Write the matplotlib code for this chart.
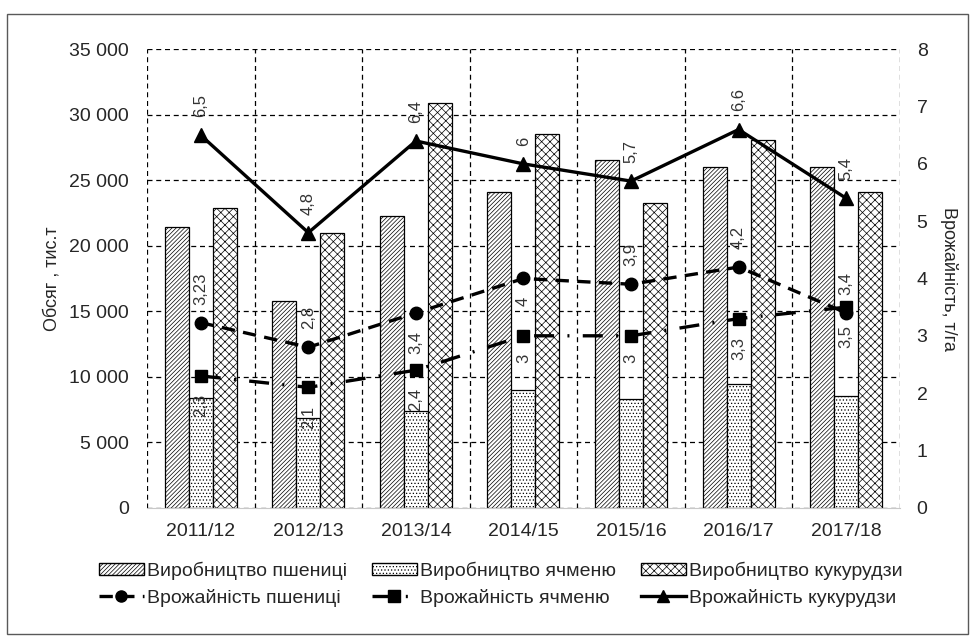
import numpy as np
import matplotlib
matplotlib.use('Agg')
import matplotlib.pyplot as plt
from matplotlib.patches import Patch, Rectangle
from matplotlib.lines import Line2D
from matplotlib.ticker import FuncFormatter

plt.rcParams['font.family'] = ['Liberation Sans', 'DejaVu Sans']
plt.rcParams['hatch.linewidth'] = 0.5
plt.rcParams['text.color'] = '#262626'
plt.rcParams['axes.labelcolor'] = '#262626'
plt.rcParams['xtick.color'] = '#262626'
plt.rcParams['ytick.color'] = '#262626'

# Data
seasons = ['2011/12', '2012/13', '2013/14', '2014/15', '2015/16', '2016/17', '2017/18']
wheat_prod = [21400, 15800, 22270, 24100, 26540, 26050, 26000]
barley_prod = [8400, 6850, 7350, 9000, 8290, 9430, 8540]
corn_prod = [22850, 20950, 30870, 28500, 23250, 28100, 24100]

wheat_yield = [3.23, 2.8, 3.4, 4, 3.9, 4.2, 3.4]
barley_yield = [2.3, 2.1, 2.4, 3, 3, 3.3, 3.5]
corn_yield = [6.5, 4.8, 6.4, 6, 5.7, 6.6, 5.4]

# where the wheat yield labels sit (above / below marker)
wheat_label_side = ['above', 'above', 'below', 'below', 'above', 'above', 'above']

x = np.arange(len(seasons))
w = 0.223

fig = plt.figure(figsize=(9.76, 6.42), dpi=100)
ax = fig.add_axes([0.1506, 0.2092, 0.7715, 0.714])

ax.bar(x - w, wheat_prod, w, color='white', edgecolor='black', hatch='////////', linewidth=0.9, zorder=2)
ax.bar(x, barley_prod, w, color='white', edgecolor='black', hatch='.....', linewidth=0.9, zorder=2)
ax.bar(x + w, corn_prod, w, color='white', edgecolor='black', hatch='xxxx', linewidth=0.9, zorder=2)

ax.set_xlim(-0.5, len(seasons) - 0.5)
ax.set_ylim(0, 35000)
ax.set_yticks(range(0, 35001, 5000))
ax.yaxis.set_major_formatter(FuncFormatter(lambda v, p: f'{int(v):,}'.replace(',', ' ')))
ax.set_xticks(x)
ax.set_xticklabels(seasons)
ax.set_xticks(np.arange(-0.5, len(seasons)), minor=True)
ax.grid(axis='y', which='major', linestyle=(0, (4, 3)), color='black', linewidth=0.9)
ax.grid(axis='x', which='minor', linestyle=(0, (4, 3)), color='black', linewidth=0.9)
ax.set_axisbelow(True)
ax.tick_params(axis='both', which='both', length=0, labelsize=14)
ax.tick_params(axis='y', pad=13)
ax.tick_params(axis='x', pad=11)
for s in ['top', 'left', 'right']:
    ax.spines[s].set_visible(False)
ax.spines['bottom'].set_color('#c8c8c8')
ax.set_ylabel('Обсяг , тис.т', fontsize=13, labelpad=6)

ax2 = ax.twinx()
ax2.set_ylim(0, 8)
ax2.set_yticks(range(0, 9))
ax2.tick_params(axis='y', length=0, labelsize=14, pad=12)
for s in ['top', 'left', 'right', 'bottom']:
    ax2.spines[s].set_visible(False)
ax2.set_ylabel('Врожайність, т/га', fontsize=13, rotation=270, labelpad=22)

ax2.plot(x, barley_yield, color='black', linewidth=2.4, linestyle=(0, (6, 4, 0.6, 4)),
         marker='s', markersize=9, zorder=3)
ax2.plot(x, wheat_yield, color='black', linewidth=2.4, linestyle=(0, (4, 2.5)),
         marker='o', markersize=9, zorder=3)
ax2.plot(x, corn_yield, color='black', linewidth=2.4, linestyle='-',
         marker='^', markersize=10, zorder=3)


def fmt(v):
    s = f'{v:g}'
    return s.replace('.', ',')


def put_label(xi, v, side):
    off = 13 if side == 'above' else -13
    ax2.annotate(fmt(v), (xi, v), xytext=(0, off), textcoords='offset points',
                 rotation=90, ha='center', va='bottom' if side == 'above' else 'top',
                 fontsize=12, color='#333333', zorder=4)


for i in range(len(seasons)):
    put_label(x[i], corn_yield[i], 'above')
    put_label(x[i], wheat_yield[i], wheat_label_side[i])
    put_label(x[i], barley_yield[i], 'below')

handles = [
    Patch(facecolor='white', edgecolor='black', hatch='////////', label='Виробництво пшениці'),
    Line2D([], [], color='black', linewidth=2.4, linestyle=(0, (4, 2.5)), marker='o', markersize=8,
           label='Врожайність пшениці'),
    Patch(facecolor='white', edgecolor='black', hatch='.....', label='Виробництво ячменю'),
    Line2D([], [], color='black', linewidth=2.4, linestyle=(0, (6, 4, 0.6, 4)), marker='s', markersize=8,
           label='Врожайність ячменю'),
    Patch(facecolor='white', edgecolor='black', hatch='xxxx', label='Виробництво кукурудзи'),
    Line2D([], [], color='black', linewidth=2.4, linestyle='-', marker='^', markersize=8,
           label='Врожайність кукурудзи'),
]
fig.legend(handles=handles, ncol=3, loc='center', bbox_to_anchor=(0.513, 0.090),
           frameon=False, fontsize=14, handlelength=2.3, handleheight=0.6,
           handletextpad=0.15, columnspacing=1.3, labelspacing=0.45)

fig.patches.append(Rectangle((7 / 976, 1 - 634 / 642), 961 / 976, 620 / 642,
                             transform=fig.transFigure, fill=False, edgecolor='#595959',
                             linewidth=1.0))

fig.savefig('out.png', dpi=100)
